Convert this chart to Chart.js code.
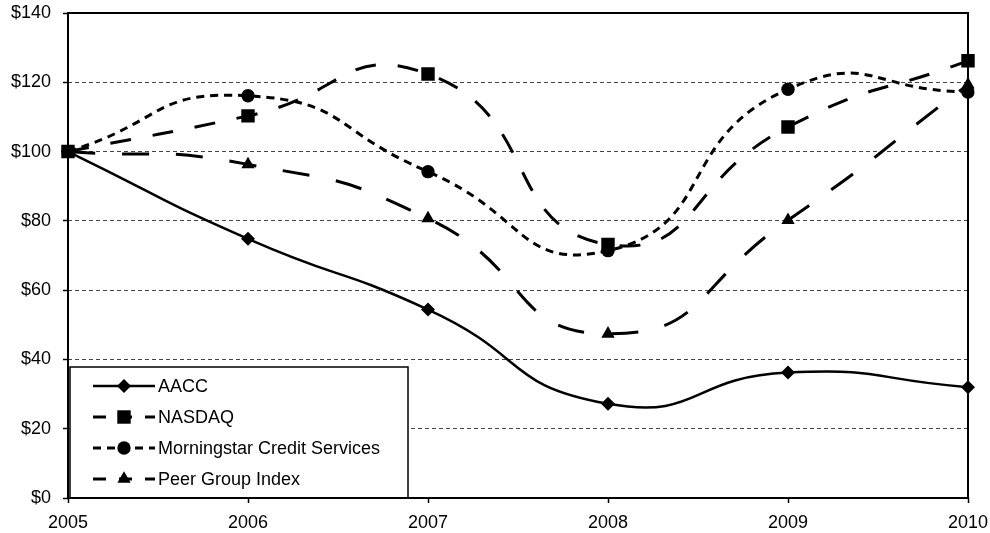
<!DOCTYPE html>
<html>
<head>
<meta charset="utf-8">
<script src="https://cdn.jsdelivr.net/npm/chart.js@4/dist/chart.umd.min.js"></script>
<style>
  html, body { margin: 0; padding: 0; background: #fff; }
  #wrap { width: 990px; height: 533px; }
</style>
</head>
<body>
<div id="wrap"><canvas id="c" width="990" height="533"></canvas></div>
<script>
// Cumulative value of a $100 investment, 2005-2010
const years = ['2005', '2006', '2007', '2008', '2009', '2010'];
const aacc = [100, 74.8, 54.4, 27.2, 36.2, 32.0];
const nasdaq = [100, 110.3, 122.4, 73.2, 107.1, 126.2];
const morningstar = [100, 116.1, 94.2, 71.4, 118.0, 117.2];
const peerGroup = [100, 96.3, 80.7, 47.4, 80.2, 119.3];
const yTickValues = [0, 20, 40, 60, 80, 100, 120, 140];
const yTickLabels = yTickValues.map(v => '$' + v);

const FONT = '"Liberation Sans", Arial, Helvetica, sans-serif';

const series = [
  { label: 'AACC', data: aacc, pointStyle: 'rectRot', radius: 7, dash: [], width: 2.5 },
  { label: 'NASDAQ', data: nasdaq, pointStyle: 'rect', radius: 9.5, dash: [21, 22], width: 3 },
  { label: 'Morningstar Credit Services', data: morningstar, pointStyle: 'circle', radius: 6.7, dash: [8, 6], width: 3 },
  { label: 'Peer Group Index', data: peerGroup, pointStyle: 'triangle', radius: 7.7, dash: [27, 27], width: 3 }
];

// Boxed legend sitting in the lower-left corner of the plot
const boxLegend = {
  id: 'boxLegend',
  beforeDatasetsDraw(chart) {
    const ctx = chart.ctx;
    const area = chart.chartArea;
    const x0 = area.left + 2, y0 = 367, x1 = 408, y1 = area.bottom;
    ctx.save();
    ctx.fillStyle = '#fff';
    ctx.fillRect(x0, y0, x1 - x0, y1 - y0);
    ctx.strokeStyle = '#000';
    ctx.lineWidth = 1.5;
    ctx.strokeRect(x0, y0, x1 - x0, y1 - y0);
    const rowTop = 386, rowGap = 31;
    chart.data.datasets.forEach((ds, i) => {
      const y = rowTop + i * rowGap;
      ctx.beginPath();
      ctx.setLineDash(ds.legendDash);
      ctx.lineWidth = ds.borderWidth;
      ctx.strokeStyle = '#000';
      ctx.moveTo(93, y);
      ctx.lineTo(155, y);
      ctx.stroke();
      ctx.setLineDash([]);
      ctx.fillStyle = '#000';
      Chart.helpers.drawPoint(ctx, {
        pointStyle: ds.pointStyle, radius: ds.pointRadius, rotation: 0, borderWidth: 0
      }, 124, y);
      ctx.fillStyle = '#000';
      ctx.font = '18px ' + FONT;
      ctx.textBaseline = 'middle';
      ctx.textAlign = 'left';
      ctx.fillText(ds.label, 158, y + 1);
    });
    ctx.restore();
  }
};

// Solid frame around the plot area
const plotFrame = {
  id: 'plotFrame',
  afterDraw(chart) {
    const { ctx, chartArea: a } = chart;
    ctx.save();
    ctx.strokeStyle = '#000';
    ctx.lineWidth = 2;
    ctx.setLineDash([]);
    ctx.strokeRect(a.left, a.top, a.right - a.left, a.bottom - a.top);
    ctx.restore();
  }
};

new Chart(document.getElementById('c'), {
  type: 'line',
  data: {
    labels: years,
    datasets: series.map(s => ({
      label: s.label,
      data: s.data,
      borderColor: '#000',
      backgroundColor: '#000',
      borderWidth: s.width,
      borderDash: s.dash,
      legendDash: s.dash.length ? s.dash.map(v => Math.min(v, 13)) : [],
      pointStyle: s.pointStyle,
      pointRadius: s.radius,
      pointBorderWidth: 0,
      pointBackgroundColor: '#000',
      fill: false,
      tension: 0.55
    }))
  },
  options: {
    responsive: false,
    devicePixelRatio: 1,
    animation: false,
    layout: { padding: { top: 13, right: 22, left: 0, bottom: 0 } },
    plugins: { legend: { display: false }, tooltip: { enabled: false } },
    scales: {
      x: {
        type: 'category',
        offset: false,
        afterFit(scale) {
          scale.height = 35;
          scale.paddingLeft = 0;
          scale.paddingRight = 0;
        },
        grid: { display: true, drawOnChartArea: false, drawTicks: true, tickLength: 5, color: '#000', tickWidth: 1.5 },
        border: { display: false },
        ticks: { color: '#000', font: { family: FONT, size: 18 }, padding: 9, maxRotation: 0, autoSkip: false }
      },
      y: {
        min: 0,
        max: 140,
        afterFit(scale) {
          scale.width = 68;
          scale.paddingTop = 0;
          scale.paddingBottom = 0;
        },
        afterBuildTicks(scale) { scale.ticks = yTickValues.map(v => ({ value: v })); },
        grid: { color: '#444', lineWidth: 1, tickLength: 5, tickColor: '#000', tickWidth: 1.5, tickBorderDash: [] },
        border: { display: false, dash: [4, 3] },
        ticks: {
          color: '#000',
          font: { family: FONT, size: 18 },
          padding: 12,
          callback: (v) => yTickLabels[yTickValues.indexOf(v)]
        }
      }
    }
  },
  plugins: [boxLegend, plotFrame]
});
</script>
</body>
</html>
